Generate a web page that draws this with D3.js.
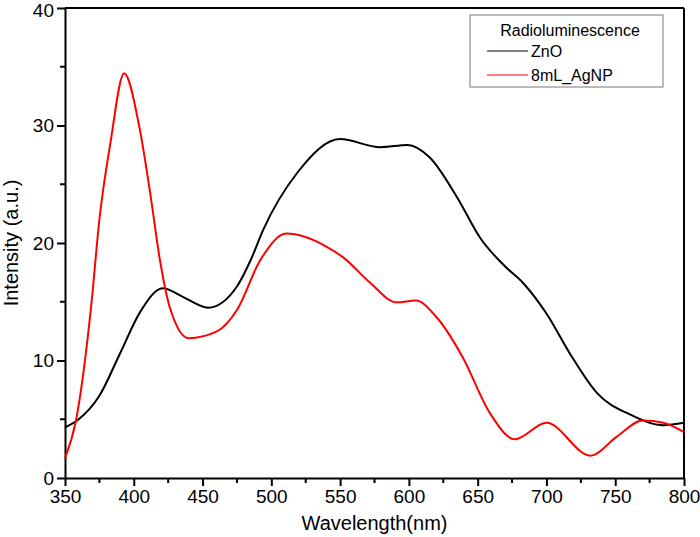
<!DOCTYPE html>
<html>
<head>
<meta charset="utf-8">
<script src="https://cdn.jsdelivr.net/npm/d3@7"></script>
<style>
  body { margin: 0; background: #fff; }
  text { font-family: "Liberation Sans", Arial, sans-serif; }
</style>
</head>
<body>
<div id="chart"></div>
<script>
// wavelength (nm) / intensity (a.u.)
const znoWave = [350, 360, 375, 390, 405, 421, 436, 454, 475, 485, 494, 519, 550, 579, 599, 615, 635, 652, 670, 683, 700, 717, 737, 761, 785, 800];
const znoInt  = [4.3, 5.0, 7.0, 10.6, 14.2, 16.15, 15.4, 14.5, 16.3, 18.55, 21.1, 26.0, 28.85, 28.15, 28.35, 27.3, 23.9, 20.4, 18.0, 16.6, 14.0, 10.6, 7.2, 5.4, 4.5, 4.7];

const agWave = [350, 358, 369, 375, 383, 393, 404, 412, 419, 426, 440, 460, 475, 492, 511, 540, 552, 572, 591, 605, 620, 639, 659, 677, 700, 732, 751, 770, 785, 800];
const agInt  = [1.7, 4.9, 14.6, 22.0, 28.5, 34.45, 29.9, 24.2, 18.55, 14.6, 11.9, 12.45, 14.3, 18.55, 20.8, 19.7, 18.8, 16.6, 14.95, 15.1, 13.7, 10.3, 5.5, 3.3, 4.7, 1.9, 3.5, 4.9, 4.7, 3.9];

const xTicks = [350, 400, 450, 500, 550, 600, 650, 700, 750, 800];
const yTicks = [0, 10, 20, 30, 40];
const legendTitle = "Radioluminescence";
const seriesNames = ["ZnO", "8mL_AgNP"];
const seriesColors = ["#000000", "#ff0000"];

const width = 700, height = 537;
const margin = {top: 8, right: 16, bottom: 59, left: 65};
const w = width - margin.left - margin.right;
const h = height - margin.top - margin.bottom;

const svg = d3.select("#chart").append("svg")
    .attr("width", width)
    .attr("height", height);

const g = svg.append("g")
    .attr("transform", `translate(${margin.left},${margin.top})`);

const x = d3.scaleLinear().domain([350, 800]).range([0, w]);
const y = d3.scaleLinear().domain([0, 40]).range([h, 0]);

// minor ticks (half steps)
const xMinor = d3.range(375, 800, 50);
const yMinor = d3.range(5, 40, 10);

g.selectAll(".xminor").data(xMinor).enter().append("line")
    .attr("x1", d => x(d)).attr("x2", d => x(d))
    .attr("y1", h).attr("y2", h + 5)
    .attr("stroke", "#000").attr("stroke-width", 2);
g.selectAll(".yminor").data(yMinor).enter().append("line")
    .attr("x1", -5).attr("x2", 0)
    .attr("y1", d => y(d)).attr("y2", d => y(d))
    .attr("stroke", "#000").attr("stroke-width", 2);

const xAxis = g.append("g")
    .attr("transform", `translate(0,${h})`)
    .call(d3.axisBottom(x).tickValues(xTicks).tickSize(8).tickSizeOuter(0).tickPadding(4));
const yAxis = g.append("g")
    .call(d3.axisLeft(y).tickValues(yTicks).tickSize(8).tickSizeOuter(0).tickPadding(3));

[xAxis, yAxis].forEach(a => {
    a.select(".domain").attr("stroke-width", 2);
    a.selectAll(".tick line").attr("stroke-width", 2);
    a.selectAll(".tick text").style("font-size", "19px").attr("fill", "#000");
});
// keep the top label inside the page
yAxis.selectAll(".tick text").filter(d => d === 40).attr("dy", "0.45em");

// frame top/right
g.append("line").attr("x1", 0).attr("x2", w).attr("y1", 0).attr("y2", 0)
    .attr("stroke", "#000").attr("stroke-width", 2);
g.append("line").attr("x1", w).attr("x2", w).attr("y1", 0).attr("y2", h)
    .attr("stroke", "#000").attr("stroke-width", 2);

const line = d3.line()
    .x(d => x(d[0]))
    .y(d => y(d[1]))
    .curve(d3.curveMonotoneX);

const series = [
    d3.zip(znoWave, znoInt),
    d3.zip(agWave, agInt)
];

g.selectAll(".series").data(series).enter().append("path")
    .attr("d", line)
    .attr("fill", "none")
    .attr("stroke", (d, i) => seriesColors[i])
    .attr("stroke-width", 2);

// axis titles
svg.append("text")
    .attr("x", margin.left + w / 2)
    .attr("y", 530)
    .attr("text-anchor", "middle")
    .style("font-size", "20px")
    .text("Wavelength(nm)");
svg.append("text")
    .attr("transform", `translate(18,${margin.top + h / 2}) rotate(-90)`)
    .attr("text-anchor", "middle")
    .style("font-size", "20px")
    .text("Intensity (a.u.)");

// legend
const lg = svg.append("g").attr("transform", "translate(470,15)");
lg.append("rect")
    .attr("width", 193).attr("height", 72)
    .attr("fill", "#fff").attr("stroke", "#777").attr("stroke-width", 1);
lg.append("text")
    .attr("x", 100).attr("y", 21)
    .attr("text-anchor", "middle")
    .style("font-size", "16px")
    .text(legendTitle);
seriesNames.forEach((name, i) => {
    const yy = 36 + i * 24;
    lg.append("line")
        .attr("x1", 17).attr("x2", 58).attr("y1", yy).attr("y2", yy)
        .attr("stroke", seriesColors[i]).attr("stroke-width", 1);
    lg.append("text")
        .attr("x", 61).attr("y", yy + 6)
        .style("font-size", "16px")
        .text(name);
});
</script>
</body>
</html>
